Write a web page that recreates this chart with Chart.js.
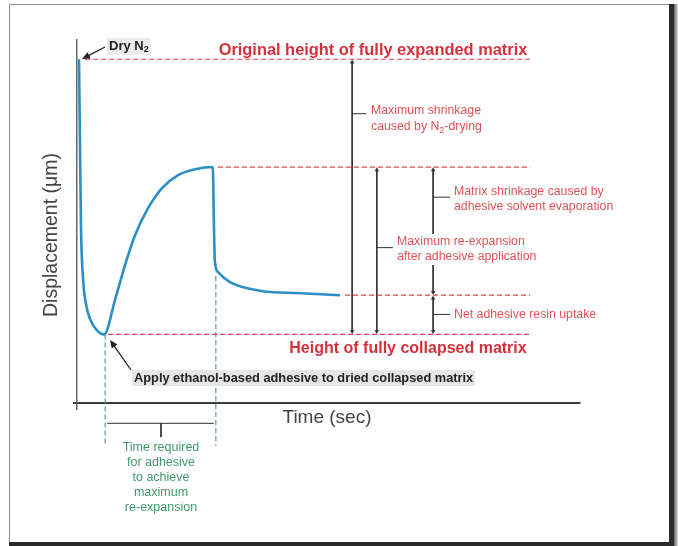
<!DOCTYPE html>
<html>
<head>
<meta charset="utf-8">
<script src="https://cdn.jsdelivr.net/npm/chart.js@4"></script>
<style>
  html, body { margin: 0; padding: 0; background: #fff; }
  canvas { display: block; }
</style>
</head>
<body>
<canvas id="displacementChart" width="678" height="546"></canvas>
<script>
// Curve (time and displacement in arbitrary units, 0-100)
const timeVals = [0.4, 0.6, 0.8, 1.2, 1.8, 2.6, 3.8, 5.4, 7.6, 9.5, 11.5, 14.1, 16.9, 20.1, 23.5, 27.0, 27.2, 27.4, 28.0, 30.4, 37.0, 43.7, 52.3];
const dispVals = [94.7, 70.3, 48.1, 34.2, 27.2, 23.1, 20.3, 18.9, 28.6, 37.8, 46.1, 53.6, 59.2, 62.8, 64.4, 65.0, 50.8, 39.2, 36.1, 33.3, 30.8, 30.3, 29.7];

// Reference levels
const levelExpanded = 94.7;
const levelPlateau = 65.0;
const levelFinal = 29.7;
const levelCollapsed = 18.9;

// Key times
const tApply = 5.6;
const tPeak = 27.6;
const tLinesEnd = 90.1;
const tBracketA = 54.7;
const tBracketB = 59.6;
const tBracketC = 70.8;

const RED = '#e0424c';
const DARK = '#333';
const GREEN = '#5c9c78';

function seg(x1, y1, x2, y2) { return [{ x: x1, y: y1 }, { x: x2, y: y2 }]; }

function dashed(data, color) {
    return { data: data, borderColor: color, borderWidth: 1.2, borderDash: [5, 3], pointRadius: 0, tension: 0, clip: false };
}

function bracket(data, rotations, arrows) {
    return {
        data: data, borderColor: DARK, borderWidth: 1, tension: 0, clip: false,
        pointStyle: 'triangle', pointRadius: arrows ? 2.6 : 0, pointRotation: rotations,
        pointBackgroundColor: DARK, pointBorderColor: DARK, pointBorderWidth: 0
    };
}

const curve = timeVals.map((t, i) => ({ x: t, y: dispVals[i] }));

// Frame and text annotations
const framePlugin = {
    id: 'frame',
    beforeDraw(chart) {
        const ctx = chart.ctx;
        ctx.save();
        ctx.fillStyle = '#fff';
        ctx.fillRect(0, 0, 678, 546);
        ctx.strokeStyle = '#8a8a8a';
        ctx.lineWidth = 1;
        ctx.beginPath();
        ctx.moveTo(9.5, 546); ctx.lineTo(9.5, 4.5); ctx.lineTo(670, 4.5);
        ctx.stroke();
        ctx.fillStyle = '#2a2a2a';
        ctx.fillRect(669, 4, 5, 542);
        ctx.fillRect(9, 542, 662, 4);
        const g = ctx.createLinearGradient(674, 0, 678, 0);
        g.addColorStop(0, '#666');
        g.addColorStop(1, '#ddd');
        ctx.fillStyle = g;
        ctx.fillRect(674, 4, 4, 542);
        ctx.restore();
    }
};

function label(ctx, text, x, y, opts) {
    ctx.font = opts.font;
    ctx.textAlign = opts.align || 'left';
    ctx.textBaseline = 'middle';
    const w = ctx.measureText(text).width;
    if (opts.bg) {
        let left = x;
        if (ctx.textAlign === 'center') left = x - w / 2;
        ctx.fillStyle = opts.bg;
        ctx.fillRect(left - 2, y - 8, w + 4, 16);
    }
    ctx.fillStyle = opts.color;
    ctx.fillText(text, x, y);
    return w;
}

function withSub(ctx, main, sub, rest, x, y, size, weight, color, bg) {
    ctx.font = weight + ' ' + size + 'px "Liberation Sans", Arial, sans-serif';
    const w1 = ctx.measureText(main).width;
    ctx.font = weight + ' ' + Math.round(size * 0.7) + 'px "Liberation Sans", Arial, sans-serif';
    const w2 = ctx.measureText(sub).width;
    ctx.font = weight + ' ' + size + 'px "Liberation Sans", Arial, sans-serif';
    const w3 = ctx.measureText(rest).width;
    ctx.textAlign = 'left';
    ctx.textBaseline = 'middle';
    if (bg) {
        ctx.fillStyle = bg;
        ctx.fillRect(x - 2, y - 8, w1 + w2 + w3 + 4, 17);
    }
    ctx.fillStyle = color;
    ctx.fillText(main, x, y);
    ctx.font = weight + ' ' + Math.round(size * 0.7) + 'px "Liberation Sans", Arial, sans-serif';
    ctx.fillText(sub, x + w1, y + 4);
    ctx.font = weight + ' ' + size + 'px "Liberation Sans", Arial, sans-serif';
    ctx.fillText(rest, x + w1 + w2, y);
}

function arrow(ctx, x1, y1, x2, y2) {
    const a = Math.atan2(y2 - y1, x2 - x1);
    ctx.strokeStyle = '#222';
    ctx.fillStyle = '#222';
    ctx.lineWidth = 1.3;
    ctx.beginPath();
    ctx.moveTo(x1, y1);
    ctx.lineTo(x2 - 5 * Math.cos(a), y2 - 5 * Math.sin(a));
    ctx.stroke();
    ctx.beginPath();
    ctx.moveTo(x2, y2);
    ctx.lineTo(x2 - 8 * Math.cos(a) + 3.5 * Math.sin(a), y2 - 8 * Math.sin(a) - 3.5 * Math.cos(a));
    ctx.lineTo(x2 - 8 * Math.cos(a) - 3.5 * Math.sin(a), y2 - 8 * Math.sin(a) + 3.5 * Math.cos(a));
    ctx.closePath();
    ctx.fill();
}

const textPlugin = {
    id: 'texts',
    afterDatasetsDraw(chart) {
        const ctx = chart.ctx;
        const small = '12.3px "Liberation Sans", Arial, sans-serif';
        const bigRed = 'bold 16.4px "Liberation Sans", Arial, sans-serif';
        ctx.save();

        label(ctx, 'Original height of fully expanded matrix', 373, 50, { font: bigRed, color: '#d6303c', align: 'center' });
        label(ctx, 'Height of fully collapsed matrix', 408, 349, { font: 'bold 16px "Liberation Sans", Arial, sans-serif', color: '#d6303c', align: 'center' });

        label(ctx, 'Maximum shrinkage', 371, 111, { font: small, color: '#e05258', bg: '#fff' });
        withSub(ctx, 'caused by N', '2', '-drying', 371, 127, 12.3, 'normal', '#e05258', '#fff');
        label(ctx, 'Matrix shrinkage caused by', 454, 192, { font: small, color: '#e05258', bg: '#fff' });
        label(ctx, 'adhesive solvent evaporation', 454, 207, { font: small, color: '#e05258', bg: '#fff' });
        label(ctx, 'Maximum re-expansion', 397, 242, { font: small, color: '#e05258', bg: '#fff' });
        label(ctx, 'after adhesive application', 397, 257, { font: small, color: '#e05258', bg: '#fff' });
        label(ctx, 'Net adhesive resin uptake', 454, 315, { font: small, color: '#e05258', bg: '#fff' });

        withSub(ctx, 'Dry N', '2', '', 109, 46, 13, 'bold', '#222', '#ebebeb');
        arrow(ctx, 105, 47, 82, 59);

        label(ctx, 'Apply ethanol-based adhesive to dried collapsed matrix', 134, 378,
            { font: 'bold 12.8px "Liberation Sans", Arial, sans-serif', color: '#222', bg: '#e6e6e6' });
        arrow(ctx, 131, 370, 110, 340);

        label(ctx, 'Time (sec)', 327, 418, { font: '19px "Liberation Sans", Arial, sans-serif', color: '#444', align: 'center' });

        ctx.save();
        ctx.translate(52, 235);
        ctx.rotate(-Math.PI / 2);
        label(ctx, 'Displacement (\u03bcm)', 0, 0, { font: '19.5px "Liberation Sans", Arial, sans-serif', color: '#444', align: 'center' });
        ctx.restore();

        const greenLines = ['Time required', 'for adhesive', 'to achieve', 'maximum', 're-expansion'];
        greenLines.forEach((t, i) => {
            label(ctx, t, 161, 448 + i * 14.8, { font: '12.5px "Liberation Sans", Arial, sans-serif', color: '#3f9a6c', align: 'center' });
        });
        ctx.restore();
    }
};

const ctx = document.getElementById('displacementChart').getContext('2d');
const displacementChart = new Chart(ctx, {
    type: 'line',
    data: {
        datasets: [
            // reference levels
            dashed(seg(1.6, levelExpanded, tLinesEnd, levelExpanded), RED),
            dashed(seg(tPeak + 0.4, levelPlateau, tLinesEnd, levelPlateau), RED),
            dashed(seg(53.3, levelFinal, tLinesEnd, levelFinal), RED),
            dashed(seg(tApply + 0.6, levelCollapsed, tLinesEnd, levelCollapsed), RED),
            // time markers
            dashed(seg(tApply, levelCollapsed, tApply, -11.7), GREEN),
            dashed(seg(tPeak, 35.0, tPeak, -11.7), GREEN),
            // brackets
            bracket(seg(tBracketA, levelExpanded - 0.8, tBracketA, levelCollapsed + 0.8), [0, 180], true),
            bracket(seg(tBracketA, 79.7, tBracketA + 2.8, 79.7), [0, 0], false),
            bracket(seg(tBracketB, levelPlateau - 0.8, tBracketB, levelCollapsed + 0.8), [0, 180], true),
            bracket(seg(tBracketB, 42.8, tBracketB + 3.2, 42.8), [0, 0], false),
            bracket(seg(tBracketC, levelPlateau - 0.8, tBracketC, levelFinal + 0.8), [0, 180], true),
            bracket(seg(tBracketC, levelFinal - 0.8, tBracketC, levelCollapsed + 0.8), [0, 180], true),
            bracket(seg(tBracketC, 56.7, tBracketC + 3.4, 56.7), [0, 0], false),
            bracket(seg(tBracketC, 24.4, tBracketC + 3.4, 24.4), [0, 0], false),
            bracket(seg(tApply + 0.4, -5.6, tPeak - 0.4, -5.6), [270, 90], true),
            bracket(seg(16.7, -5.6, 16.7, -9.4), [0, 0], false),
            // displacement curve
            {
                label: 'Displacement',
                data: curve,
                borderColor: '#2b8ec4',
                borderWidth: 2.6,
                pointRadius: 0,
                tension: 0.4,
                cubicInterpolationMode: 'monotone',
                clip: false
            }
        ]
    },
    options: {
        responsive: false,
        animation: false,
        devicePixelRatio: 1,
        layout: { padding: { left: 73, right: 98, top: 40, bottom: 136 } },
        plugins: {
            legend: { display: false },
            tooltip: { enabled: false }
        },
        scales: {
            x: {
                type: 'linear', min: 0, max: 100,
                ticks: { display: false },
                afterBuildTicks: s => { s.ticks = [{ value: 0 }]; },
                grid: { drawOnChartArea: false, tickLength: 7, color: '#666', lineWidth: 1.5 },
                border: { color: '#3c3c3c', width: 2 }
            },
            y: {
                type: 'linear', min: 0, max: 100,
                ticks: { display: false },
                afterBuildTicks: s => { s.ticks = [{ value: 0 }]; },
                grid: { drawOnChartArea: false, tickLength: 4, color: '#3c3c3c', lineWidth: 2 },
                border: { color: '#666', width: 1.5 }
            }
        }
    },
    plugins: [framePlugin, textPlugin]
});
</script>
</body>
</html>
